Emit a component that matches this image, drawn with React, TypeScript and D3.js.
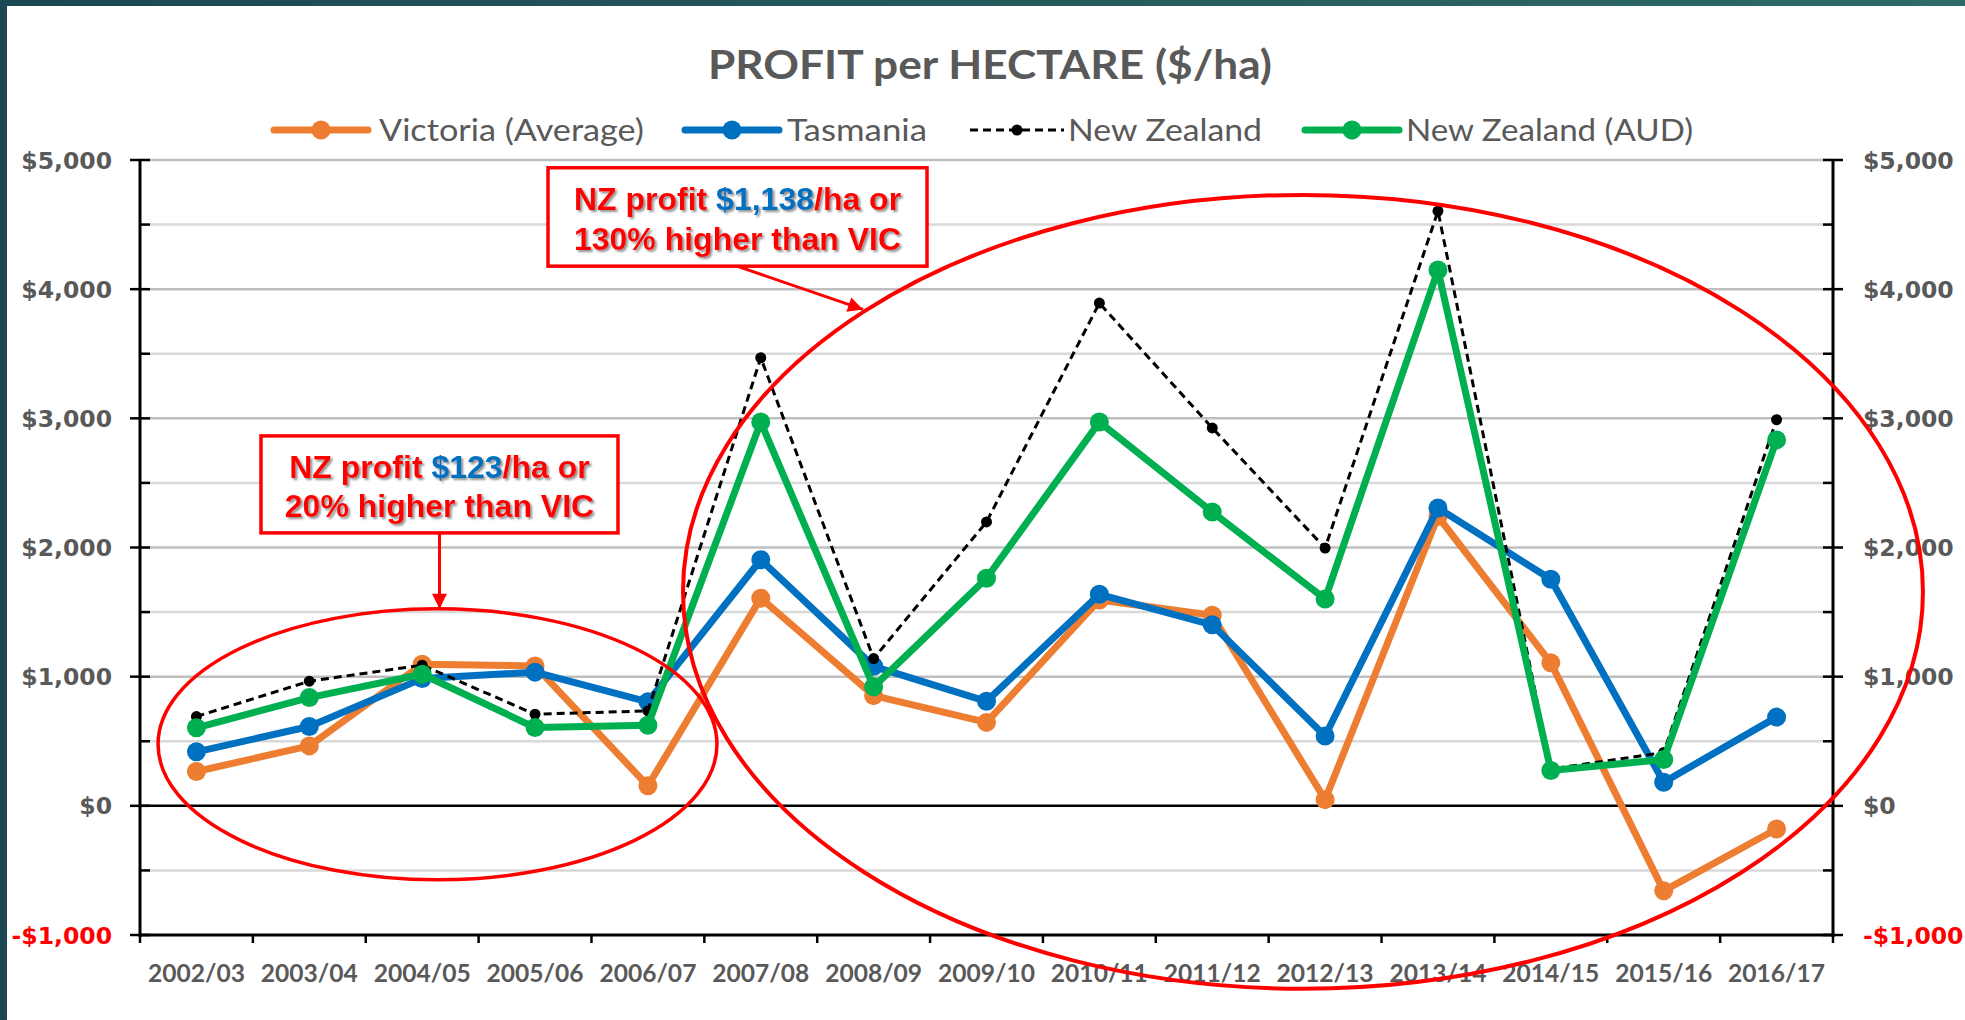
import * as d3 from 'd3'

const categories = [
  '2002/03', '2003/04', '2004/05', '2005/06', '2006/07', '2007/08', '2008/09', '2009/10',
  '2010/11', '2011/12', '2012/13', '2013/14', '2014/15', '2015/16', '2016/17',
]

// $/ha
const victoria = [266, 464, 1096, 1083, 155, 1608, 853, 646, 1594, 1475, 48, 2240, 1107, -658, -179]
const tasmania = [418, 614, 985, 1035, 805, 1905, 1080, 809, 1638, 1401, 541, 2306, 1754, 183, 687]
const newZealand = [691, 965, 1089, 709, 735, 3469, 1140, 2198, 3892, 2926, 1996, 4605, 285, 413, 2990]
const newZealandAud = [604, 838, 1019, 606, 624, 2971, 921, 1762, 2971, 2275, 1601, 4148, 274, 358, 2833]

const yMajorTicks = [-1000, 0, 1000, 2000, 3000, 4000, 5000]
const yMinorTicks = [-500, 500, 1500, 2500, 3500, 4500]

const seriesNames = ['Victoria (Average)', 'Tasmania', 'New Zealand', 'New Zealand (AUD)']

const GRAY = '#595959'
const RED = '#ff0000'

const money = (v: number) => (v < 0 ? '-$' : '$') + d3.format(',')(Math.abs(v))

export default function App() {
  const W = 1965
  const H = 1020
  const left = 140
  const right = 1833
  const top = 160
  const bottom = 935

  const x = d3.scaleBand<string>().domain(categories).range([left, right]).padding(0)
  // fractional category units, used to place the annotations
  const xi = d3.scaleLinear().domain([0, categories.length]).range([left, right])
  const y = d3.scaleLinear().domain([-1000, 5000]).range([bottom, top])
  const cx = (i: number) => (x(categories[i]) ?? 0) + x.bandwidth() / 2

  const line = d3
    .line<number>()
    .x((_, i) => cx(i))
    .y((d) => y(d))

  const series = [
    { name: seriesNames[0], values: victoria, color: '#ED7D31', width: 7, dash: undefined, r: 9.5 },
    { name: seriesNames[1], values: tasmania, color: '#0070C0', width: 7, dash: undefined, r: 9.5 },
    { name: seriesNames[2], values: newZealand, color: '#000000', width: 3, dash: '8,5', r: 5.5 },
    { name: seriesNames[3], values: newZealandAud, color: '#00B050', width: 7, dash: undefined, r: 9.5 },
  ]

  // legend layout
  const legendY = 130
  const legendItems = [
    { x0: 274, tx: 379, tl: 265 },
    { x0: 685, tx: 787, tl: 140 },
    { x0: 970, tx: 1068, tl: 194 },
    { x0: 1305, tx: 1406, tl: 287 },
  ]

  const textFont = 'Lato, "Open Sans", sans-serif'
  const axisFont = '"DejaVu Sans", Verdana, sans-serif'
  const noteFont = '"Liberation Sans", Arial, sans-serif'

  // annotation shapes in category / value space
  const smallEll = { cx: xi(2.636), cy: y(476), rx: xi(2.476) - xi(0), ry: y(0) - y(1049) }
  const bigEll = { cx: xi(10.304), cy: y(1657), rx: xi(5.493) - xi(0), ry: y(0) - y(3073) }
  const box1 = { x0: xi(3.615), x1: xi(6.973), y0: y(4940), y1: y(4178) }
  const box2 = { x0: xi(1.072), x1: xi(4.235), y0: y(2864), y1: y(2113) }

  return (
    <svg
      width={W}
      height={H}
      style={{ position: 'absolute', left: 0, top: 0, display: 'block' }}
    >
      <defs>
        <linearGradient id="frame" x1="0" y1="0" x2="1" y2="0">
          <stop offset="0" stopColor="#1b4853" />
          <stop offset="1" stopColor="#2e6a66" />
        </linearGradient>
        <filter id="shadow" x="-10%" y="-20%" width="120%" height="140%">
          <feDropShadow dx="2" dy="2" stdDeviation="1" floodColor="#7f7f7f" floodOpacity="0.85" />
        </filter>
        <marker id="arrow" viewBox="0 0 10 10" refX="10" refY="5" markerWidth="5.5" markerHeight="5" markerUnits="strokeWidth" orient="auto">
          <path d="M0,0 L10,5 L0,10 z" fill={RED} />
        </marker>
      </defs>

      <rect x={0} y={0} width={W} height={H} fill="url(#frame)" />
      <rect x={7} y={6} width={W} height={H} fill="#ffffff" />

      {/* title */}
      <text x={990} y={79} textAnchor="middle" fontFamily={textFont} fontWeight={700} fontSize={40} fill={GRAY} textLength={564} lengthAdjust="spacingAndGlyphs">
        PROFIT per HECTARE ($/ha)
      </text>

      {/* legend */}
      {series.map((s, i) => {
        const it = legendItems[i]
        return (
          <g key={s.name}>
            <line x1={it.x0} x2={it.x0 + 94} y1={legendY} y2={legendY} stroke={s.color} strokeWidth={s.width} strokeDasharray={s.dash} strokeLinecap={s.dash ? 'butt' : 'round'} />
            <circle cx={it.x0 + 47} cy={legendY} r={s.r} fill={s.color} />
            <text x={it.tx} y={legendY + 11} fontFamily={textFont} fontSize={30} fill={GRAY} textLength={it.tl} lengthAdjust="spacingAndGlyphs">
              {s.name}
            </text>
          </g>
        )
      })}

      {/* gridlines */}
      {yMinorTicks.map((t) => (
        <line key={'mg' + t} x1={left} x2={right} y1={y(t)} y2={y(t)} stroke="#d9d9d9" strokeWidth={2.5} />
      ))}
      {yMajorTicks.filter((t) => t > 0).map((t) => (
        <line key={'g' + t} x1={left} x2={right} y1={y(t)} y2={y(t)} stroke="#bfbfbf" strokeWidth={2.5} />
      ))}
      <line x1={left} x2={right} y1={y(0)} y2={y(0)} stroke="#000" strokeWidth={2.5} />

      {/* axes */}
      <line x1={left} x2={left} y1={y(5000) - 1} y2={bottom + 2} stroke="#000" strokeWidth={3} />
      <line x1={right} x2={right} y1={y(5000) - 1} y2={bottom + 2} stroke="#000" strokeWidth={3} />
      <line x1={left} x2={right} y1={bottom} y2={bottom} stroke="#000" strokeWidth={3} />
      {yMajorTicks.map((t) => (
        <g key={'t' + t}>
          <line x1={left - 10} x2={left + 10} y1={y(t)} y2={y(t)} stroke="#000" strokeWidth={2.5} />
          <line x1={right - 10} x2={right + 10} y1={y(t)} y2={y(t)} stroke="#000" strokeWidth={2.5} />
          <text x={112} y={y(t) + 8.5} textAnchor="end" fontFamily={axisFont} fontWeight={700} fontSize={23.5} fill={t < 0 ? RED : GRAY}>
            {money(t)}
          </text>
          <text x={1863} y={y(t) + 8.5} textAnchor="start" fontFamily={axisFont} fontWeight={700} fontSize={23.5} fill={t < 0 ? RED : GRAY}>
            {money(t)}
          </text>
        </g>
      ))}
      {yMinorTicks.map((t) => (
        <g key={'mt' + t}>
          <line x1={left} x2={left + 10} y1={y(t)} y2={y(t)} stroke="#000" strokeWidth={2.5} />
          <line x1={right - 10} x2={right} y1={y(t)} y2={y(t)} stroke="#000" strokeWidth={2.5} />
        </g>
      ))}
      {d3.range(categories.length + 1).map((i) => (
        <line key={'xt' + i} x1={xi(i)} x2={xi(i)} y1={bottom} y2={bottom + 8} stroke="#000" strokeWidth={2.5} />
      ))}
      {categories.map((c, i) => (
        <text key={c} x={cx(i)} y={982} textAnchor="middle" fontFamily={textFont} fontWeight={700} fontSize={25} fill={GRAY} textLength={97} lengthAdjust="spacingAndGlyphs">
          {c}
        </text>
      ))}

      {/* series */}
      {series.map((s) => (
        <g key={'s' + s.name}>
          <path d={line(s.values) ?? ''} fill="none" stroke={s.color} strokeWidth={s.width} strokeDasharray={s.dash} strokeLinejoin="round" />
          {s.values.map((v, i) => (
            <circle key={i} cx={cx(i)} cy={y(v)} r={s.r} fill={s.color} />
          ))}
        </g>
      ))}

      {/* annotations */}
      <ellipse cx={smallEll.cx} cy={smallEll.cy} rx={smallEll.rx} ry={smallEll.ry} fill="none" stroke={RED} strokeWidth={3.5} />
      <ellipse cx={bigEll.cx} cy={bigEll.cy} rx={bigEll.rx} ry={bigEll.ry} fill="none" stroke={RED} strokeWidth={4} />

      <line x1={xi(5.289)} y1={box1.y1} x2={xi(6.406)} y2={y(3843)} stroke={RED} strokeWidth={3} markerEnd="url(#arrow)" />
      <line x1={(box2.x0 + box2.x1) / 2} y1={box2.y1} x2={(box2.x0 + box2.x1) / 2} y2={y(1525)} stroke={RED} strokeWidth={3} markerEnd="url(#arrow)" />

      <rect x={box1.x0} y={box1.y0} width={box1.x1 - box1.x0} height={box1.y1 - box1.y0} fill="#fff" stroke={RED} strokeWidth={3.5} />
      <g fontFamily={noteFont} fontWeight={700} fontSize={32} fill={RED} textAnchor="middle" filter="url(#shadow)">
        <text x={(box1.x0 + box1.x1) / 2} y={box1.y0 + 42}>
          NZ profit <tspan fill="#0070C0">$1,138</tspan>/ha or
        </text>
        <text x={(box1.x0 + box1.x1) / 2} y={box1.y0 + 82}>
          130% higher than VIC
        </text>
      </g>

      <rect x={box2.x0} y={box2.y0} width={box2.x1 - box2.x0} height={box2.y1 - box2.y0} fill="#fff" stroke={RED} strokeWidth={3.5} />
      <g fontFamily={noteFont} fontWeight={700} fontSize={32} fill={RED} textAnchor="middle" filter="url(#shadow)">
        <text x={(box2.x0 + box2.x1) / 2} y={box2.y0 + 42}>
          NZ profit <tspan fill="#0070C0">$123</tspan>/ha or
        </text>
        <text x={(box2.x0 + box2.x1) / 2} y={box2.y0 + 81}>
          20% higher than VIC
        </text>
      </g>
    </svg>
  )
}
